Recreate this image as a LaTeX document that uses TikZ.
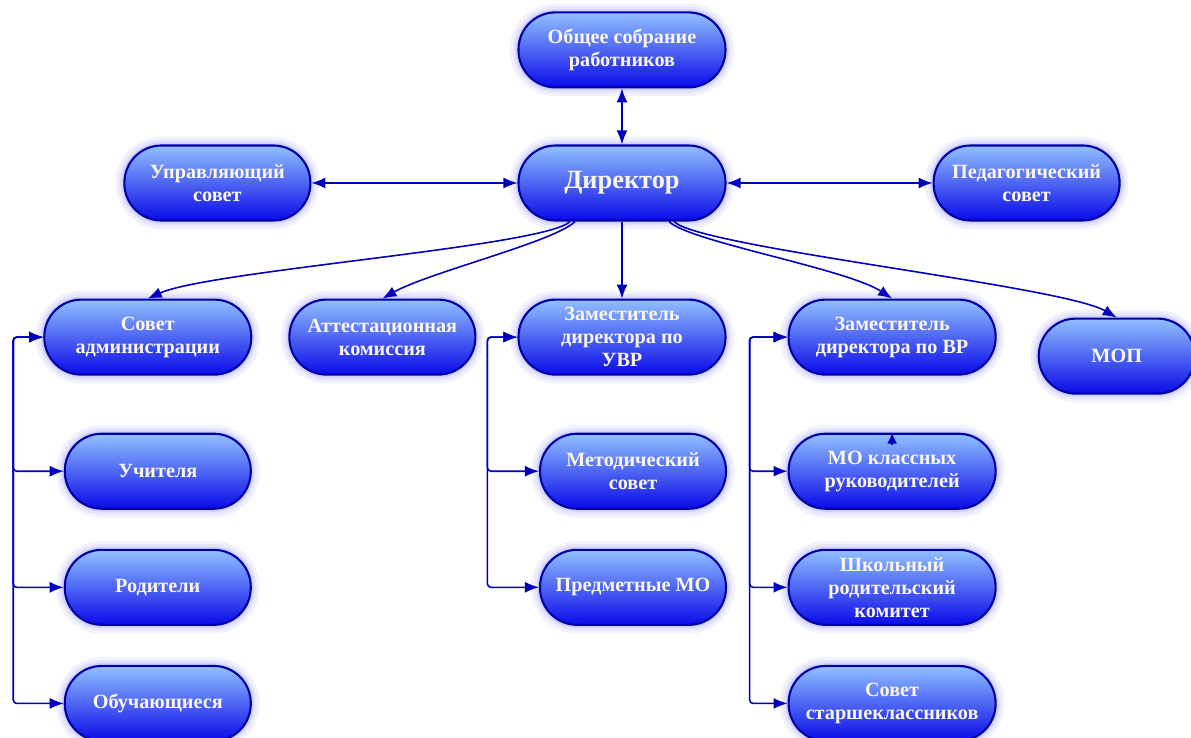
\documentclass[tikz,border=0pt]{standalone}
\usepackage{fontspec}
\setmainfont{Liberation Serif}
\usepackage{tikz}
\usetikzlibrary{positioning,arrows.meta}

\definecolor{boxtop}{RGB}{145,192,255}
\definecolor{boxmid}{RGB}{80,100,255}
\definecolor{boxbot}{RGB}{10,10,232}
\definecolor{boxedge}{RGB}{0,0,165}
\definecolor{linkblue}{RGB}{0,0,190}
\definecolor{boxtext}{RGB}{250,246,232}

\begin{document}
\begin{tikzpicture}[pillnode/.style={rectangle, rounded corners=0.74cm, draw=boxedge, line width=1.2pt,
            top color=boxtop, middle color=boxmid, bottom color=boxbot,
            preaction={draw=blue!5, line width=10pt}, preaction={draw=blue!10, line width=6.5pt},
            preaction={draw=blue!18, line width=3.5pt},
            text=boxtext, font=\bfseries\fontsize{11.5}{13}\selectfont, align=center,
            inner sep=1pt, minimum height=1.5cm, minimum width=3.72cm},
        widenode/.style={minimum width=4.14cm},
        link/.style={draw=linkblue, line width=0.9pt, >={Latex[length=2.8mm,width=2.2mm]}}]

        \useasboundingbox (0,0) rectangle (23.82,-14.76);

        % top part
        \node[pillnode, widenode, font=\bfseries\fontsize{15}{17}\selectfont] (dir) at (12.44,-3.66) {Директор};
        \node[pillnode, widenode] (obs) [above=1.12cm of dir] {Общее собрание\\работников};
        \node[pillnode] (upr) [left=4.12cm of dir] {Управляющий\\совет};
        \node[pillnode] (ped) [right=4.12cm of dir] {Педагогический\\совет};

        % second row
        \node[pillnode, widenode] (uvr) [below=1.54cm of dir] {Заместитель\\директора по\\УВР};
        \node[pillnode] (att) [left=0.82cm of uvr] {Аттестационная\\комиссия};
        \node[pillnode, widenode] (adm) [left=0.72cm of att] {Совет\\администрации};
        \node[pillnode, widenode] (vr) [right=1.22cm of uvr] {Заместитель\\директора по ВР};
        \node[pillnode, minimum width=3.12cm] (mop) [right=0.82cm of vr, yshift=-0.38cm] {МОП};

        % columns
        \node[pillnode] (uch) [below=1.14cm of adm, xshift=0.2cm] {Учителя};
        \node[pillnode] (rod) [below=0.78cm of uch] {Родители};
        \node[pillnode] (obu) [below=0.78cm of rod] {Обучающиеся};

        \node[pillnode] (met) [below=1.14cm of uvr, xshift=0.22cm] {Методический\\совет};
        \node[pillnode] (pred) [below=0.78cm of met] {Предметные МО};

        \node[pillnode, widenode] (mokl) [below=1.14cm of vr] {МО классных\\руководителей};
        \node[pillnode, widenode] (shk) [below=0.78cm of mokl] {Школьный\\родительский\\комитет};
        \node[pillnode, widenode] (sov) [below=0.78cm of shk] {Совет\\старшеклассников};

        % links
        \draw[link, <->] (obs.south) -- (dir.north);
        \draw[link, <->] (upr) -- (dir);
        \draw[link, <->] (dir) -- (ped);
        \draw[link, ->] (dir.south) -- (uvr.north);
        \draw[link, ->] ([xshift=-1.04cm]dir.south) .. controls +(-0.5,-0.5) and +(1.24,0.56) .. (adm.north);
        \draw[link, ->] ([xshift=-0.94cm]dir.south) .. controls +(-0.4,-0.4) and +(0.92,0.52) .. (att.north);
        \draw[link, ->] ([xshift=0.94cm]dir.south) .. controls +(0.4,-0.4) and +(-0.92,0.6) .. (vr.north);
        \draw[link, ->] ([xshift=1.04cm]dir.south) .. controls +(0.5,-0.52) and +(-1.1,0.64) .. (mop.north);

        \foreach \c in {uch,rod,obu}
            \draw[link, <->, rounded corners=2pt] (adm.west) -- ++(-0.6,0) |- (\c.west);
        \foreach \c in {met,pred}
            \draw[link, <->, rounded corners=2pt] (uvr.west) -- ++(-0.6,0) |- (\c.west);
        \foreach \c in {mokl,shk,sov}
            \draw[link, <->, rounded corners=2pt] (vr.west) -- ++(-0.76,0) |- (\c.west);

        \draw[link, -{Latex[length=2.2mm,width=2mm]}] ([yshift=-0.24cm]mokl.north) -- (mokl.north);

        \end{tikzpicture}
\end{document}
